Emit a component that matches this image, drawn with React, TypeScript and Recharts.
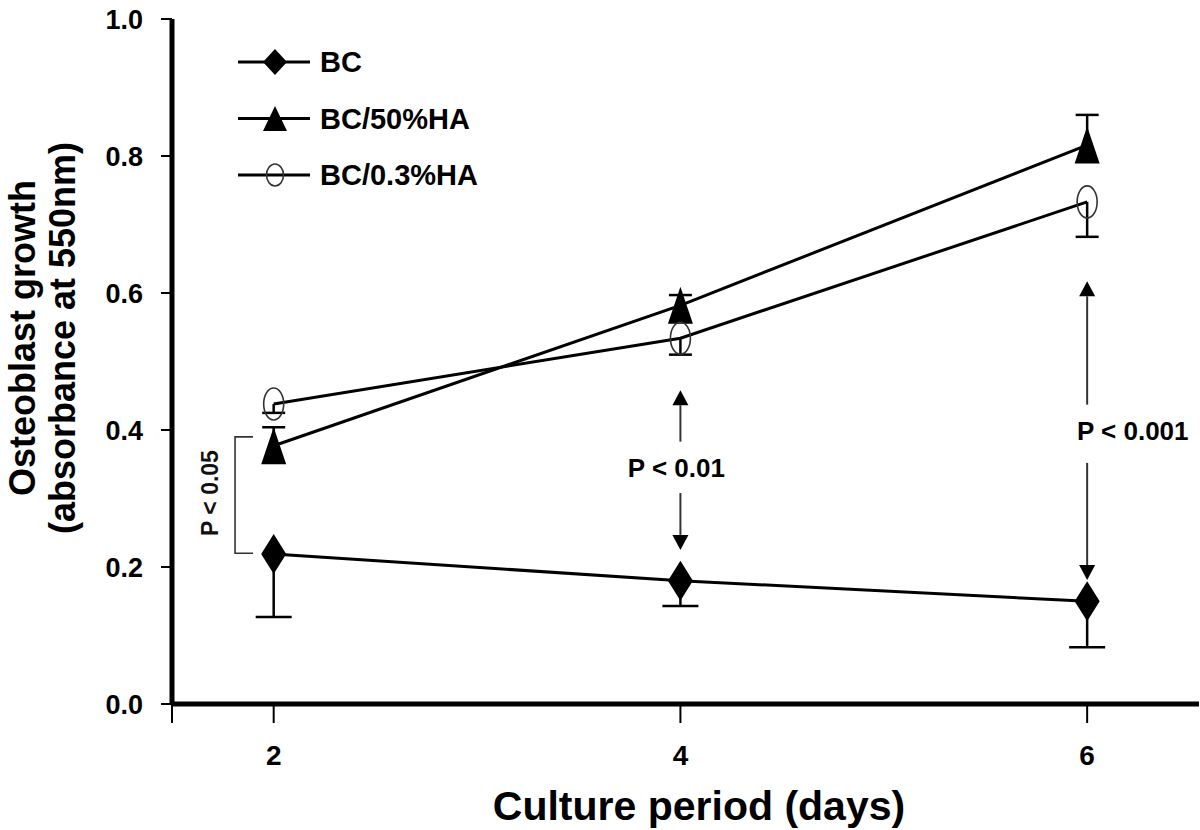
import React from 'react';
import { ComposedChart, Line, XAxis, YAxis, ErrorBar, ReferenceLine, ReferenceDot, Legend } from 'recharts';

const FONT = '"Liberation Sans", Arial, sans-serif';

// culture period (days)
const days = [2, 4, 6];
// mean absorbance at 550nm, with the one-sided error bar length shown in the figure
const bc = [0.219, 0.18, 0.15];
const bcErr = [0.092, 0.037, 0.067];
const ha50 = [0.377, 0.582, 0.816];
const ha50Err = [0.027, 0.015, 0.044];
const ha03 = [0.438, 0.534, 0.733];
const ha03Err = [0.013, 0.024, 0.051];

const xTicks = [1.5, 2, 4, 6];
const yTicks = [0, 0.2, 0.4, 0.6, 0.8, 1.0];
const legendOrder = ['bc', 'ha50', 'ha03'];

const data = days.map((day, i) => ({
  day,
  bc: bc[i],
  bcErr: [bcErr[i], 0],
  bcCap: bc[i] - bcErr[i],
  ha50: ha50[i],
  ha50Err: [0, ha50Err[i]],
  ha50Cap: ha50[i] + ha50Err[i],
  ha03: ha03[i],
  ha03Err: [ha03Err[i], 0],
  ha03Cap: ha03[i] - ha03Err[i],
}));

const Diamond = ({ cx, cy, w = 25, h = 40 }: any) => (
  <polygon points={`${cx},${cy - h / 2} ${cx + w / 2},${cy} ${cx},${cy + h / 2} ${cx - w / 2},${cy}`} fill="#000" />
);
const Triangle = ({ cx, cy, w = 25, h = 37 }: any) => (
  <polygon points={`${cx},${cy - h / 2} ${cx + w / 2},${cy + h / 2} ${cx - w / 2},${cy + h / 2}`} fill="#000" />
);
const Ellipse = ({ cx, cy, rx = 10, ry = 16 }: any) => (
  <ellipse cx={cx} cy={cy} rx={rx} ry={ry} fill="none" stroke="#333" strokeWidth={1.6} />
);

const capDot = (w: number) => (p: any) => (
  <line key={`cap-${p.index}`} x1={p.cx - w / 2} x2={p.cx + w / 2} y1={p.cy} y2={p.cy} stroke="#000" strokeWidth={2.5} />
);

const arrowShape = (p: any) => {
  const { x1, y1, x2, y2 } = p;
  const dir = y2 > y1 ? 1 : -1;
  const hh = 15;
  const hw = 8;
  return (
    <g>
      <line x1={x1} y1={y1} x2={x2} y2={y2 - dir * hh} stroke="#333" strokeWidth={2} />
      <polygon points={`${x2},${y2} ${x2 - hw},${y2 - dir * hh} ${x2 + hw},${y2 - dir * hh}`} fill="#000" />
    </g>
  );
};

const bracketShape = (p: any) => {
  const { x1, y1, x2, y2 } = p;
  return (
    <path d={`M${x1 + 18},${y1} H${x1} V${y2} H${x2 + 18}`} fill="none" stroke="#333" strokeWidth={1.6} />
  );
};

const noteText = (label: string, anchor: string) => (p: any) => (
  <text x={p.cx} y={p.cy} textAnchor={anchor} dominantBaseline="central" fontFamily={FONT} fontWeight="bold" fontSize={26} fill="#000">
    {label}
  </text>
);

const rotatedNote = (label: string) => (p: any) => (
  <text x={p.cx} y={p.cy} transform={`rotate(-90 ${p.cx} ${p.cy})`} textAnchor="middle" dominantBaseline="central" fontFamily={FONT} fontWeight="bold" fontSize={23} fill="#111">
    {label}
  </text>
);

const legendMarkers: Record<string, any> = {
  bc: (x: number, y: number) => <Diamond cx={x} cy={y} w={24} h={26} />,
  ha50: (x: number, y: number) => <Triangle cx={x} cy={y} w={24} h={25} />,
  ha03: (x: number, y: number) => <Ellipse cx={x} cy={y} rx={8.5} ry={11} />,
};

const LegendBox = ({ payload }: any) => {
  const rows = (payload || [])
    .filter((e: any) => legendMarkers[e.dataKey])
    .sort((a: any, b: any) => legendOrder.indexOf(a.dataKey) - legendOrder.indexOf(b.dataKey));
  return (
    <svg width={520} height={210} style={{ display: 'block' }}>
      {rows.map((e: any, i: number) => {
        const y = 62 + i * 56.5;
        return (
          <g key={e.dataKey}>
            <line x1={238} x2={310} y1={y} y2={y} stroke="#000" strokeWidth={3} />
            {legendMarkers[e.dataKey](275, y)}
            <text x={320} y={y} dominantBaseline="central" fontFamily={FONT} fontWeight="bold" fontSize={29} fill="#000">
              {e.value}
            </text>
          </g>
        );
      })}
    </svg>
  );
};

const YTitle = () => (
  <g fontFamily={FONT} fontWeight="bold" fontSize={36} fill="#000" textAnchor="middle">
    <text x={22} y={338} transform="rotate(-90 22 338)" dominantBaseline="central">Osteoblast growth</text>
    <text x={62} y={338} transform="rotate(-90 62 338)" dominantBaseline="central">(absorbance at 550nm)</text>
  </g>
);

const XTitle = () => (
  <text x={699} y={820} textAnchor="middle" fontFamily={FONT} fontWeight="bold" fontSize={41} fill="#000">
    Culture period (days)
  </text>
);

export default function App() {
  return (
    <div style={{ position: 'absolute', left: 0, top: 0, width: 1200, height: 830, background: '#fff' }}>
      <ComposedChart width={1200} height={830} data={data} margin={{ top: 19, right: 1, bottom: 0, left: 0 }}>
        <XAxis
          dataKey="day"
          type="number"
          domain={[1.5, 6.55]}
          ticks={xTicks}
          allowDataOverflow
          height={126}
          tickFormatter={(v: number) => (v === 1.5 ? '' : String(v))}
          tick={{ fontFamily: FONT, fontWeight: 'bold', fontSize: 28, fill: '#000' }}
          tickSize={19}
          tickMargin={22}
          tickLine={{ stroke: '#000', strokeWidth: 2 }}
          axisLine={{ stroke: '#000', strokeWidth: 5 }}
          label={<XTitle />}
        />
        <YAxis
          type="number"
          domain={[0, 1]}
          ticks={yTicks}
          width={172}
          tickFormatter={(v: number) => v.toFixed(1)}
          tick={{ fontFamily: FONT, fontWeight: 'bold', fontSize: 27, fill: '#000' }}
          tickSize={11}
          tickMargin={18}
          tickLine={{ stroke: '#000', strokeWidth: 2 }}
          axisLine={{ stroke: '#000', strokeWidth: 5 }}
          label={<YTitle />}
        />
        <Legend
          layout="horizontal"
          verticalAlign="middle"
          align="center"
          content={<LegendBox />}
          wrapperStyle={{ position: 'absolute', left: 0, top: 0, width: 520, height: 210 }}
        />

        <Line dataKey="bcCap" stroke="none" dot={capDot(36)} legendType="none" isAnimationActive={false} />
        <Line dataKey="ha50Cap" stroke="none" dot={capDot(23)} legendType="none" isAnimationActive={false} />
        <Line dataKey="ha03Cap" stroke="none" dot={capDot(23)} legendType="none" isAnimationActive={false} />

        <Line name="BC" dataKey="bc" stroke="#000" strokeWidth={3} dot={(p: any) => <Diamond key={`d-${p.index}`} cx={p.cx} cy={p.cy} />} isAnimationActive={false}>
          <ErrorBar dataKey="bcErr" direction="y" width={0} stroke="#000" strokeWidth={2.5} />
        </Line>
        <Line name="BC/50%HA" dataKey="ha50" stroke="#000" strokeWidth={3} dot={(p: any) => <Triangle key={`t-${p.index}`} cx={p.cx} cy={p.cy} />} isAnimationActive={false}>
          <ErrorBar dataKey="ha50Err" direction="y" width={0} stroke="#000" strokeWidth={2.5} />
        </Line>
        <Line name="BC/0.3%HA" dataKey="ha03" stroke="#000" strokeWidth={3} dot={(p: any) => <Ellipse key={`e-${p.index}`} cx={p.cx} cy={p.cy} />} isAnimationActive={false}>
          <ErrorBar dataKey="ha03Err" direction="y" width={0} stroke="#000" strokeWidth={2.5} />
        </Line>

        <ReferenceLine segment={[{ x: 1.81, y: 0.39 }, { x: 1.81, y: 0.22 }]} shape={bracketShape} />
        <ReferenceDot x={1.687} y={0.308} r={0} shape={rotatedNote('P < 0.05')} />

        <ReferenceLine segment={[{ x: 4, y: 0.383 }, { x: 4, y: 0.458 }]} shape={arrowShape} />
        <ReferenceLine segment={[{ x: 4, y: 0.308 }, { x: 4, y: 0.225 }]} shape={arrowShape} />
        <ReferenceDot x={3.98} y={0.344} r={0} shape={noteText('P < 0.01', 'middle')} />

        <ReferenceLine segment={[{ x: 6, y: 0.437 }, { x: 6, y: 0.617 }]} shape={arrowShape} />
        <ReferenceLine segment={[{ x: 6, y: 0.352 }, { x: 6, y: 0.181 }]} shape={arrowShape} />
        <ReferenceDot x={5.95} y={0.398} r={0} shape={noteText('P < 0.001', 'start')} />
      </ComposedChart>
    </div>
  );
}
